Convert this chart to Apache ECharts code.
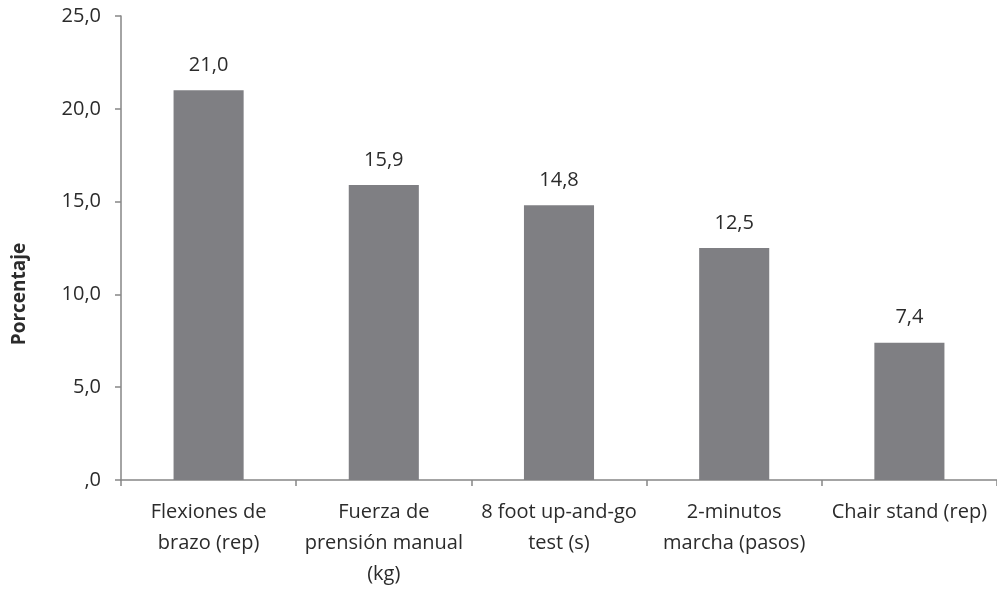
<!DOCTYPE html>
<html>
<head>
<meta charset="utf-8">
<script src="https://cdn.jsdelivr.net/npm/echarts@6/dist/echarts.min.js"></script>
<style>
  html, body { margin: 0; padding: 0; background: #ffffff; }
  #chart { width: 997px; height: 590px; }
</style>
</head>
<body>
<div id="chart"></div>
<script>
// Test names (x axis)
const categories = [
  'Flexiones de\nbrazo (rep)',
  'Fuerza de\nprensión manual\n(kg)',
  '8 foot up-and-go\ntest (s)',
  '2-minutos\nmarcha (pasos)',
  'Chair stand (rep)'
];
// Percentage per test
const values = [21.0, 15.9, 14.8, 12.5, 7.4];
// Y axis range
const yMin = 0;
const yMax = 25;
const yStep = 5;
const yTitle = 'Porcentaje';

function fmtComma(v) {
  if (v === 0) return ',0';
  return v.toFixed(1).replace('.', ',');
}

const chart = echarts.init(document.getElementById('chart'));
const font = 'Open Sans';
const textColor = '#2b2b2b';
chart.setOption({
  animation: false,
  backgroundColor: '#ffffff',
  grid: { left: 121, top: 16, width: 880, height: 469, containLabel: false },
  graphic: [{
    type: 'text',
    x: 20,
    y: 294,
    rotation: Math.PI / 2,
    style: {
      text: yTitle,
      fill: textColor,
      font: 'bold 19px "Open Sans"',
      textAlign: 'center',
      textVerticalAlign: 'middle'
    }
  }],
  xAxis: {
    type: 'category',
    data: categories,
    axisLine: { lineStyle: { color: '#868686', width: 1.5 } },
    axisTick: { show: true, length: 6, alignWithLabel: false, lineStyle: { color: '#868686', width: 1.5 } },
    axisLabel: {
      interval: 0,
      color: textColor,
      fontFamily: font,
      fontSize: 20,
      lineHeight: 31,
      margin: 17
    }
  },
  yAxis: {
    type: 'value',
    min: yMin,
    max: yMax,
    interval: yStep,
    axisLine: { show: true, lineStyle: { color: '#868686', width: 1.5 } },
    axisTick: { show: true, length: 6, lineStyle: { color: '#868686', width: 1.5 } },
    splitLine: { show: false },
    axisLabel: {
      color: textColor,
      fontFamily: font,
      fontSize: 20,
      margin: 20,
      formatter: fmtComma
    }
  },
  series: [{
    type: 'bar',
    data: values,
    barWidth: '40%',
    itemStyle: { color: '#7f7f83' },
    label: {
      show: true,
      position: 'top',
      distance: 15,
      color: textColor,
      fontFamily: font,
      fontSize: 20,
      formatter: p => fmtComma(p.value)
    }
  }]
});
</script>
</body>
</html>
